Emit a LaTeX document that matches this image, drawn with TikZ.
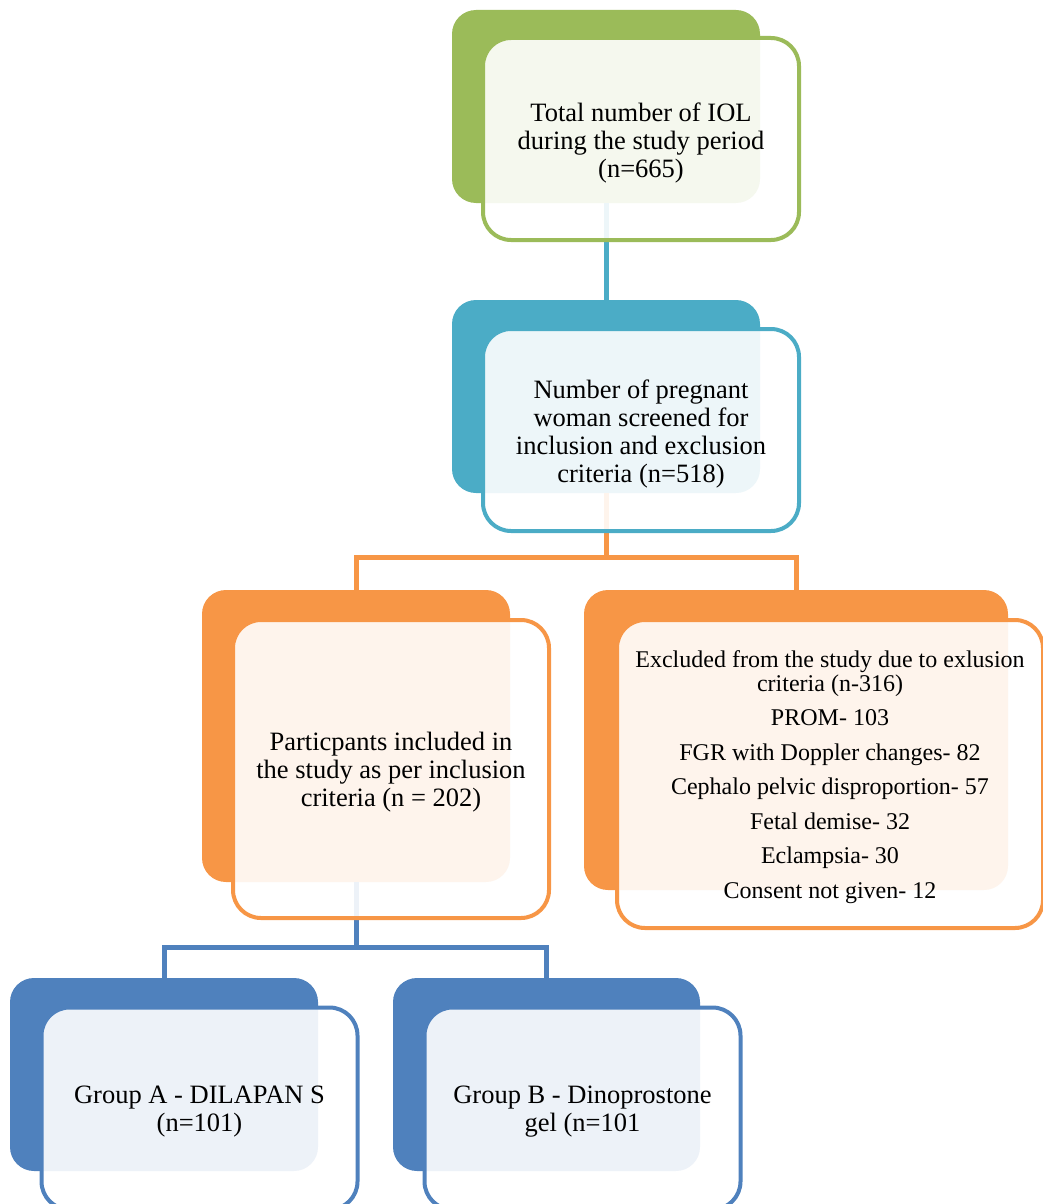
\documentclass[tikz,border=0pt]{standalone}
\usepackage{fontspec}
\setmainfont{Liberation Serif}
\definecolor{cgreen}{HTML}{9BBB59}
\definecolor{cteal}{HTML}{4BACC6}
\definecolor{corange}{HTML}{F79646}
\definecolor{cblue}{HTML}{4F81BD}
\begin{document}
\begin{tikzpicture}[x=1pt,y=-1pt,
  backbox/.style={draw=none, rounded corners=24pt, inner sep=0pt, minimum width=308pt, minimum height=193pt},
  frontbox/.style={rounded corners=28pt, line width=4pt, fill=white, fill opacity=0.9, inner sep=0pt, minimum width=316pt, minimum height=202pt},
  txt/.style={align=center, inner sep=0pt, font=\fontsize{26.5}{28}\selectfont},
  link/.style={line width=5pt}
]
\useasboundingbox (0,0) rectangle (1043,1204);
% coordinates for junctions
\coordinate (j1) at (606,557);
\coordinate (j2) at (356,947);
% back boxes
\node[backbox, fill=cgreen] (b1) at (606,106.5) {};
\node[backbox, fill=cteal] (b2) at (606,396.5) {};
\node[backbox, fill=corange, minimum height=292pt] (b3) at (356,736) {};
\node[backbox, fill=corange, minimum width=424pt, minimum height=300pt] (b4) at (796,740) {};
\node[backbox, fill=cblue] (b5) at (164,1074.5) {};
\node[backbox, fill=cblue, minimum width=307pt] (b6) at (546.5,1074.5) {};
% connectors
\draw[link, cteal] (b1.south) -- (b2.north);
\draw[link, corange] (b2.south) -- (j1) -| (b3.north);
\draw[link, corange] (j1) -| (b4.north);
\draw[link, cblue] (b3.south) -- (j2) -| (b5.north);
\draw[link, cblue] (j2) -| (b6.north);
% front boxes
\node[frontbox, draw=cgreen] (f1) at (641,139) {};
\node[frontbox, draw=cteal] (f2) at (641,430) {};
\node[frontbox, draw=corange, minimum height=298pt] (f3) at (391,769) {};
\node[frontbox, draw=corange, minimum width=426pt, minimum height=308pt] (f4) at (830,774) {};
\node[frontbox, draw=cblue] (f5) at (199.5,1108.5) {};
\node[frontbox, draw=cblue] (f6) at (582.5,1108.5) {};
% texts
\node[txt] (t1) at ([yshift=-3.5pt]f1.center) {Total number of IOL\\during the study period\\(n=665)};
\node[txt] (t2) at ([yshift=-3.5pt]f2.center) {Number of pregnant\\woman screened for\\inclusion and exclusion\\criteria (n=518)};
\node[txt] (t3) at ([yshift=-3.5pt]f3.center) {Particpants included in\\the study as per inclusion\\criteria (n = 202)};
\node[txt, font=\fontsize{24}{24}\selectfont] (t4) at ([yshift=-3pt]f4.center) {Excluded from the study due to exlusion\\criteria (n-316)\\[10.5pt]PROM- 103\\[10.5pt]FGR with Doppler changes- 82\\[10.5pt]Cephalo pelvic disproportion- 57\\[10.5pt]Fetal demise- 32\\[10.5pt]Eclampsia- 30\\[10.5pt]Consent not given- 12};
\node[txt] (t5) at ([yshift=-3.5pt]f5.center) {Group A - DILAPAN S\\(n=101)};
\node[txt] (t6) at ([yshift=-3.5pt]f6.center) {Group B - Dinoprostone\\gel (n=101};
\end{tikzpicture}
\end{document}
